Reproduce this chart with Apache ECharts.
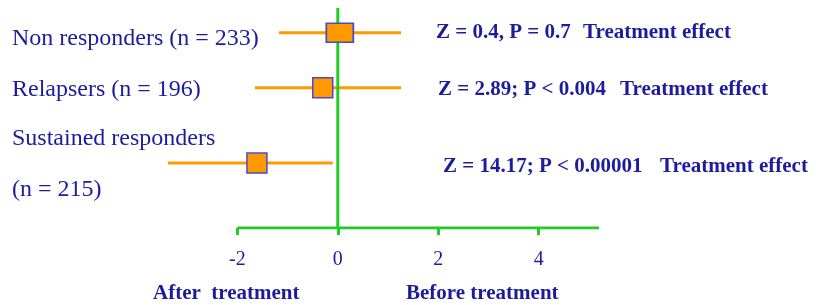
<!DOCTYPE html>
<html>
<head>
<meta charset="utf-8">
<script src="https://cdn.jsdelivr.net/npm/echarts@6/dist/echarts.min.js"></script>
<style>
  html, body { margin: 0; padding: 0; background: #fff; }
  #chart { width: 816px; height: 305px; }
</style>
</head>
<body>
<div id="chart"></div>
<script>
// rows, top to bottom
var groups = ['Non responders (n = 233)', 'Relapsers (n = 196)', 'Sustained responders'];
var effect = [0.04, -0.3, -1.61];
var lower = [-1.17, -1.65, -3.38];
var upper = [1.26, 1.26, -0.1];
var rowY = [3.55, 2.55, 1.18];
var stats = ['Z = 0.4, P = 0.7', 'Z = 2.89; P < 0.004', 'Z = 14.17; P < 0.00001'];
var tickValues = [-2, 0, 2, 4];
var axisStart = -2, axisEnd = 5.2;

var navy = '#1c1c9c';
var green = '#22cc22';
var orange = '#ff9900';
var serif = '"Liberation Serif", "Times New Roman", serif';

echart01();
function echart01(){
  var myChart = echarts.init(document.getElementById('chart'));
  var series = [];

  // whiskers
  for (var i = 0; i < groups.length; i++) {
    series.push({
      type: 'line',
      data: [[lower[i], rowY[i]], [upper[i], rowY[i]]],
      symbol: 'none',
      lineStyle: { color: orange, width: 3 },
      silent: true,
      z: 2
    });
  }

  // zero line and axis line
  series.push({
    type: 'line',
    data: [[0, 0], [0, 4]],
    symbol: 'none',
    lineStyle: { color: green, width: 3 },
    z: 3
  });
  series.push({
    type: 'line',
    data: [[axisStart, 0], [axisEnd, 0]],
    symbol: 'none',
    lineStyle: { color: green, width: 3 },
    z: 3
  });

  // point estimates
  series.push({
    type: 'scatter',
    symbol: 'rect',
    data: effect.map(function (v, i) {
      return { value: [v, rowY[i]], symbolSize: i === 0 ? [27, 19] : [20, 20] };
    }),
    itemStyle: { color: orange, opacity: 1, borderColor: '#4a4ad0', borderWidth: 1.5 },
    z: 4
  });

  var texts = [
    { left: 12, top: 27, text: groups[0] },
    { left: 12, top: 78, text: groups[1] },
    { left: 12, top: 127, text: groups[2] },
    { left: 12, top: 178, text: '(n = 215)' }
  ].map(function (t) {
    return { type: 'text', left: t.left, top: t.top,
      style: { text: t.text, fill: navy, font: '24px ' + serif } };
  });

  var bold = [
    { left: 436, top: 22, text: stats[0] },
    { left: 583, top: 22, text: 'Treatment effect' },
    { left: 438, top: 79, text: stats[1] },
    { left: 620, top: 79, text: 'Treatment effect' },
    { left: 443, top: 156, text: stats[2] },
    { left: 660, top: 156, text: 'Treatment effect' },
    { left: 153, top: 283, text: 'After  treatment' },
    { left: 406, top: 283, text: 'Before treatment' }
  ].map(function (t) {
    return { type: 'text', left: t.left, top: t.top,
      style: { text: t.text, fill: navy, font: 'bold 21px ' + serif } };
  });

  var option = {
    animation: false,
    grid: { left: 162, right: 217, top: 8, bottom: 77 },
    xAxis: {
      type: 'value',
      min: -3.5,
      max: axisEnd,
      axisLine: { show: false },
      splitLine: { show: false },
      axisTick: {
        show: true,
        customValues: tickValues,
        length: 7,
        lineStyle: { color: green, width: 3 }
      },
      axisLabel: {
        customValues: tickValues,
        margin: 22,
        color: navy,
        fontSize: 20,
        fontFamily: serif
      }
    },
    yAxis: {
      type: 'value',
      min: 0,
      max: 4,
      show: false
    },
    graphic: texts.concat(bold),
    series: series
  };
  myChart.setOption(option);
}
</script>
</body>
</html>
